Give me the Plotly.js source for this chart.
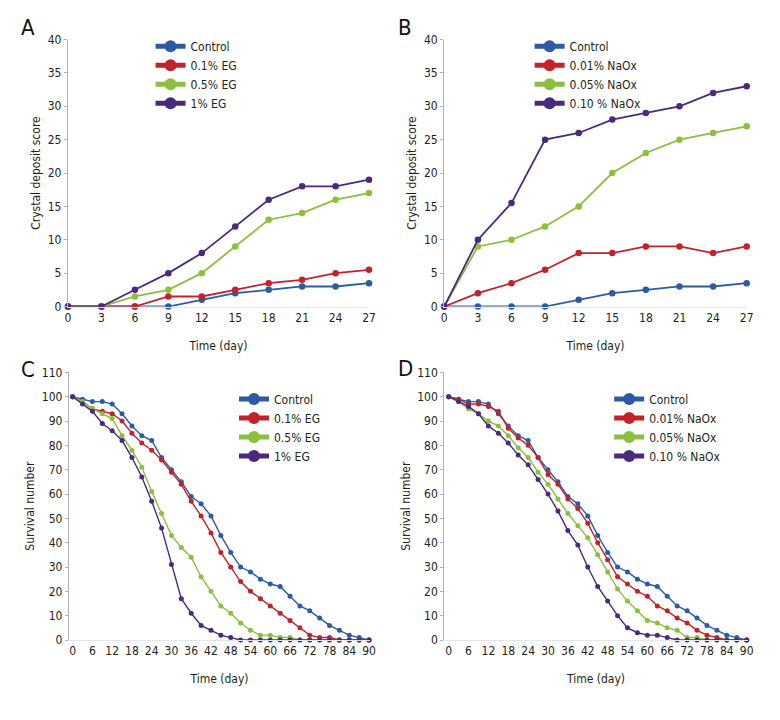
<!DOCTYPE html>
<html>
<head>
<meta charset="utf-8">
<script src="https://cdn.plot.ly/plotly-3.0.1.min.js"></script>
<style>html,body{margin:0;padding:0;background:#fff}#chart{width:780px;height:720px}</style>
</head>
<body>
<div id="chart"></div>
<script>
// ---- data ----
const daysAB = [0, 3, 6, 9, 12, 15, 18, 21, 24, 27];
const daysCD = [0, 3, 6, 9, 12, 15, 18, 21, 24, 27, 30, 33, 36, 39, 42, 45, 48, 51, 54, 57, 60, 63, 66, 69, 72, 75, 78, 81, 84, 87, 90];

const labelsEG = ['Control', '0.1% EG', '0.5% EG', '1% EG'];
const labelsNaOx = ['Control', '0.01% NaOx', '0.05% NaOx', '0.10 % NaOx'];

// Panel A: crystal deposit score, EG
const scoreA_control = [0, 0, 0, 0, 1, 2, 2.5, 3, 3, 3.5];
const scoreA_eg01    = [0, 0, 0, 1.5, 1.5, 2.5, 3.5, 4, 5, 5.5];
const scoreA_eg05    = [0, 0, 1.5, 2.5, 5, 9, 13, 14, 16, 17];
const scoreA_eg1     = [0, 0, 2.5, 5, 8, 12, 16, 18, 18, 19];

// Panel B: crystal deposit score, NaOx
const scoreB_control = [0, 0, 0, 0, 1, 2, 2.5, 3, 3, 3.5];
const scoreB_n001    = [0, 2, 3.5, 5.5, 8, 8, 9, 9, 8, 9];
const scoreB_n005    = [0, 9, 10, 12, 15, 20, 23, 25, 26, 27];
const scoreB_n010    = [0, 10, 15.5, 25, 26, 28, 29, 30, 32, 33];

// Panel C: survival number, EG
const survC_control = [100, 99, 98, 98, 97, 93, 88, 84, 82, 75, 70, 65, 59, 56, 51, 43, 36, 30, 28, 25, 23, 22, 18, 14, 12, 9, 6, 4, 2, 1, 0];
const survC_eg01    = [100, 98, 95, 94, 93, 90, 85, 81, 78, 74, 69, 64, 57, 51, 44, 36, 30, 24, 20, 17, 14, 11, 8, 5, 2, 1, 1, 0, 0, 0, 0];
const survC_eg05    = [100, 98, 95, 93, 91, 84, 78, 71, 61, 52, 43, 38, 34, 26, 20, 14, 11, 7, 4, 2, 2, 1, 1, 0, 0, 0, 0, 0, 0, 0, 0];
const survC_eg1     = [100, 97, 94, 89, 86, 82, 75, 67, 57, 46, 31, 17, 11, 6, 4, 2, 1, 0, 0, 0, 0, 0, 0, 0, 0, 0, 0, 0, 0, 0, 0];

// Panel D: survival number, NaOx
const survD_control = [100, 99, 98, 98, 97, 93, 88, 84, 82, 75, 70, 65, 59, 56, 51, 43, 36, 30, 28, 25, 23, 22, 18, 14, 12, 9, 6, 4, 2, 1, 0];
const survD_n001    = [100, 99, 97, 97, 96, 94, 87, 83, 80, 75, 68, 64, 58, 54, 48, 40, 33, 26, 23, 20, 18, 14, 12, 9, 7, 4, 2, 1, 0, 0, 0];
const survD_n005    = [100, 98, 95, 93, 90, 88, 84, 79, 75, 69, 64, 58, 52, 47, 42, 35, 28, 21, 16, 12, 8, 7, 5, 4, 1, 1, 0, 0, 0, 0, 0];
const survD_n010    = [100, 98, 96, 93, 88, 85, 81, 76, 72, 66, 60, 53, 45, 39, 30, 22, 16, 10, 5, 3, 2, 2, 1, 0, 0, 0, 0, 0, 0, 0, 0];

// ---- style ----
const colors = ['#2c5ba6', '#c4222a', '#8dbf3e', '#4a2a7c'];
const FONT = 'Liberation Sans Narrow, DejaVu Sans Condensed, Arial Narrow, sans-serif';
const TXT = '#231f20';
const AXC = '#a9b6c9';

const traces = [];
function addScore(series, labels, xa, ya, leg) {
  series.forEach((ys, i) => {
    traces.push({
      x: daysAB, y: ys, xaxis: xa, yaxis: ya, legend: leg,
      name: labels[i], type: 'scatter', mode: 'lines+markers',
      line: {color: colors[i], width: 1.8},
      marker: {color: colors[i], size: 6.5},
      error_y: {type: 'constant', value: 0.35, width: 0, thickness: 1.5, color: colors[i]},
      cliponaxis: false
    });
  });
}
function addSurv(series, labels, xa, ya, leg) {
  series.forEach((ys, i) => {
    traces.push({
      x: daysCD, y: ys, xaxis: xa, yaxis: ya, legend: leg,
      name: labels[i], type: 'scatter', mode: 'lines+markers',
      line: {color: colors[i], width: 1.4},
      marker: {color: colors[i], size: 5},
      cliponaxis: false
    });
  });
}
addScore([scoreA_control, scoreA_eg01, scoreA_eg05, scoreA_eg1], labelsEG, 'x', 'y', 'legend');
addScore([scoreB_control, scoreB_n001, scoreB_n005, scoreB_n010], labelsNaOx, 'x2', 'y2', 'legend2');
addSurv([survC_control, survC_eg01, survC_eg05, survC_eg1], labelsEG, 'x3', 'y3', 'legend3');
addSurv([survD_control, survD_n001, survD_n005, survD_n010], labelsNaOx, 'x4', 'y4', 'legend4');

function xax(domain, range, dtick, anchor) {
  return {
    domain: domain, range: range, dtick: dtick, tick0: 0, anchor: anchor,
    showgrid: false, zeroline: false, showline: true, linecolor: '#e3e6ec', linewidth: 1,
    ticks: '', tickfont: {family: FONT, size: 12, color: TXT},
    title: {text: 'Time (day)', font: {family: FONT, size: 12, color: TXT}, standoff: 17}
  };
}
function yax(domain, range, dtick, anchor, title) {
  return {
    domain: domain, range: range, dtick: dtick, anchor: anchor,
    showgrid: false, zeroline: false, showline: true, linecolor: AXC, linewidth: 1.2,
    ticks: 'outside', ticklen: 3, tickcolor: AXC, tickwidth: 1,
    tickfont: {family: FONT, size: 12, color: TXT},
    title: {text: title, font: {family: FONT, size: 12, color: TXT}, standoff: 4}
  };
}
function leg(x, y) {
  return {x: x, y: y, xanchor: 'left', yanchor: 'top', bgcolor: 'rgba(0,0,0,0)',
    font: {family: FONT, size: 12, color: TXT}, itemsizing: 'constant', tracegroupgap: 0};
}

const yTop = [0.5743, 0.9451];
const yBot = [0.1111, 0.4828];

const layout = {
  width: 780, height: 720,
  margin: {l: 0, r: 0, t: 0, b: 0},
  paper_bgcolor: '#ffffff', plot_bgcolor: '#ffffff',
  showlegend: true,
  xaxis:  xax([0.0872, 0.4731], [0, 27], 3, 'y'),
  yaxis:  yax(yTop, [0, 40], 5, 'x', 'Crystal deposit score'),
  xaxis2: xax([0.5696, 0.9573], [0, 27], 3, 'y2'),
  yaxis2: yax(yTop, [0, 40], 5, 'x2', 'Crystal deposit score'),
  xaxis3: xax([0.0885, 0.4744], [-1.1, 90.3], 6, 'y3'),
  yaxis3: yax(yBot, [0, 110], 10, 'x3', 'Survival number'),
  xaxis4: xax([0.5697, 0.9586], [-1.3, 90.3], 6, 'y4'),
  yaxis4: yax(yBot, [0, 110], 10, 'x4', 'Survival number'),
  legend:  leg(0.193, 0.956),
  legend2: leg(0.679, 0.956),
  legend3: leg(0.300, 0.466),
  legend4: leg(0.781, 0.466),
  annotations: [
    {text: 'A', x: 28 / 780, y: 1 - 28 / 720},
    {text: 'B', x: 405 / 780, y: 1 - 28 / 720},
    {text: 'C', x: 28 / 780, y: 1 - 370 / 720},
    {text: 'D', x: 405 / 780, y: 1 - 368 / 720}
  ].map(a => Object.assign(a, {xref: 'paper', yref: 'paper', showarrow: false,
    xanchor: 'center', yanchor: 'middle', font: {family: FONT, size: 22, color: '#111'}}))
};

Plotly.newPlot('chart', traces, layout, {displayModeBar: false, staticPlot: true});
</script>
</body>
</html>
